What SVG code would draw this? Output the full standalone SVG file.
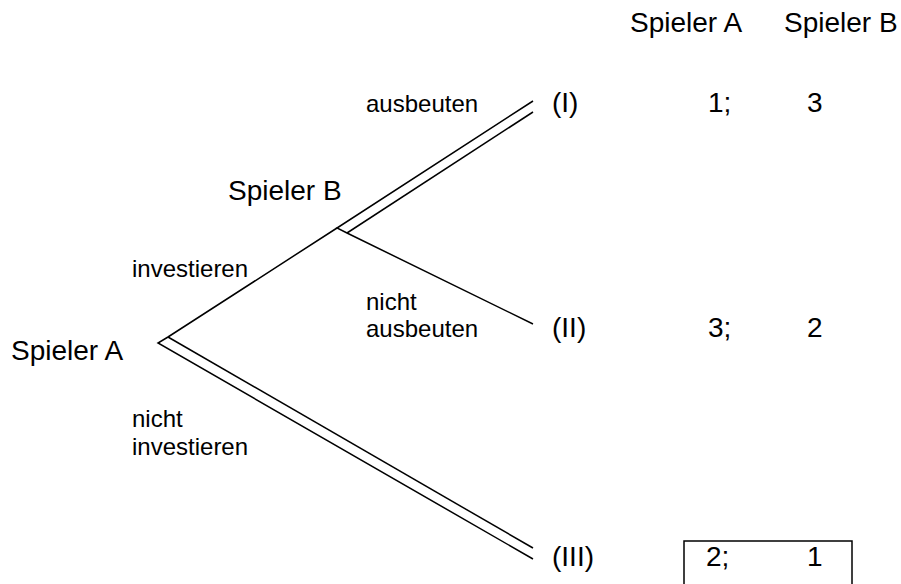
<svg xmlns="http://www.w3.org/2000/svg" width="901" height="584" viewBox="0 0 901 584">
<style>
text{font-family:"Liberation Sans",Arial,sans-serif;fill:#000}
.big{font-size:28px}
.sm{font-size:24px}
.ln{stroke:#000;stroke-width:1.5;fill:none}
</style>
<rect width="901" height="584" fill="#fff"/>
<g id="header">
<text class="big" x="630" y="32">Spieler A</text>
<text class="big" x="784" y="32">Spieler B</text>
</g>
<g id="connectors">
<polyline class="ln" points="337,228 168,337 158,343 533,559"/>
<line class="ln" x1="168" y1="337" x2="533" y2="548"/>
<polyline class="ln" points="533,101 337,228 347,233 533,324"/>
<line class="ln" x1="347" y1="233" x2="533" y2="112"/>
</g>
<g id="nodeA">
<text class="big" x="11" y="360">Spieler A</text>
</g>
<g id="nodeB">
<text class="big" x="228" y="200">Spieler B</text>
</g>
<g id="labels">
<text class="sm" x="366" y="112">ausbeuten</text>
<text class="sm" x="132" y="277">investieren</text>
<text class="sm" x="366" y="310">nicht</text>
<text class="sm" x="366" y="337">ausbeuten</text>
<text class="sm" x="132" y="427">nicht</text>
<text class="sm" x="132" y="455">investieren</text>
</g>
<g id="outcome1">
<text class="big" x="552" y="112">(I)</text>
<text class="big" x="708" y="112">1;</text>
<text class="big" x="807" y="112">3</text>
</g>
<g id="outcome2">
<text class="big" x="552" y="337">(II)</text>
<text class="big" x="708" y="337">3;</text>
<text class="big" x="807" y="337">2</text>
</g>
<g id="outcome3">
<rect x="684" y="541" width="168" height="50" fill="none" stroke="#000" stroke-width="1.5"/>
<text class="big" x="552" y="566">(III)</text>
<text class="big" x="706" y="566">2;</text>
<text class="big" x="807" y="566">1</text>
</g>
</svg>
